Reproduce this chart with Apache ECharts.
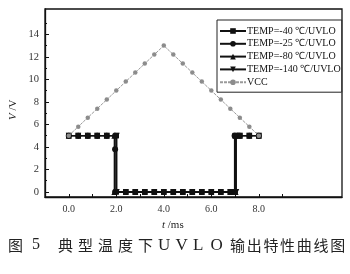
<!DOCTYPE html>
<html>
<head>
<meta charset="utf-8">
<script src="https://cdn.jsdelivr.net/npm/echarts@6/dist/echarts.min.js"></script>
<style>html,body{margin:0;padding:0;background:#fff;}#c{width:350px;height:274px;}</style>
</head>
<body>
<div id="c"></div>
<script>
// ---- data ----
const seriesNames = ['TEMP=-40 \u2103/UVLO', 'TEMP=-25 \u2103/UVLO', 'TEMP=-80 \u2103/UVLO', 'TEMP=-140 \u2103/UVLO', 'VCC'];
const xTickLabels = [0, 2, 4, 6, 8];
const xTicks = [0, 1, 2, 3, 4, 5, 6, 7, 8, 9];
const yTickLabels = [0, 2, 4, 6, 8, 10, 12, 14];
const yMinorTicks = [1, 3, 5, 7, 9, 11, 13, 15];

const vccTime = [0, 0.4, 0.8, 1.2, 1.6, 2.0, 2.4, 2.8, 3.2, 3.6, 4.0, 4.4, 4.8, 5.2, 5.6, 6.0, 6.4, 6.8, 7.2, 7.6, 8.0];
const vccVolt = [5, 5.8, 6.6, 7.4, 8.2, 9.0, 9.8, 10.6, 11.4, 12.2, 13.0, 12.2, 11.4, 10.6, 9.8, 9.0, 8.2, 7.4, 6.6, 5.8, 5.0];

const tM40 = [0, 0.4, 0.8, 1.2, 1.6, 2.0, 2.0, 2.4, 2.8, 3.2, 3.6, 4.0, 4.4, 4.8, 5.2, 5.6, 6.0, 6.4, 6.8, 7.0, 7.0, 7.2, 7.6, 8.0];
const vM40 = [5, 5, 5, 5, 5, 5, 0, 0, 0, 0, 0, 0, 0, 0, 0, 0, 0, 0, 0, 0, 5, 5, 5, 5];

const tM25 = [0, 0.4, 0.8, 1.2, 1.6, 1.95, 1.95, 1.95, 2.4, 2.8, 3.2, 3.6, 4.0, 4.4, 4.8, 5.2, 5.6, 6.0, 6.4, 6.8, 6.98, 6.98, 7.2, 7.6, 8.0];
const vM25 = [5, 5, 5, 5, 5, 5, 3.8, 0, 0, 0, 0, 0, 0, 0, 0, 0, 0, 0, 0, 0, 0, 5, 5, 5, 5];

const tM80 = [0, 0.4, 0.8, 1.2, 1.6, 1.92, 1.92, 2.4, 2.8, 3.2, 3.6, 4.0, 4.4, 4.8, 5.2, 5.6, 6.0, 6.4, 6.8, 7.02, 7.02, 7.2, 7.6, 8.0];
const vM80 = [5, 5, 5, 5, 5, 5, 0, 0, 0, 0, 0, 0, 0, 0, 0, 0, 0, 0, 0, 0, 5, 5, 5, 5];

const tM140 = [0, 0.4, 0.8, 1.2, 1.6, 2.02, 2.02, 2.4, 2.8, 3.2, 3.6, 4.0, 4.4, 4.8, 5.2, 5.6, 6.0, 6.4, 6.8, 7.05, 7.05, 7.2, 7.6, 8.0];
const vM140 = [5, 5, 5, 5, 5, 5, 0, 0, 0, 0, 0, 0, 0, 0, 0, 0, 0, 0, 0, 0, 5, 5, 5, 5];

const captionFig = ['\u56fe', '5'];
const captionA = '\u5178\u578b\u6e29\u5ea6\u4e0b';
const captionB = 'UVLO';
const captionC = '\u8f93\u51fa\u7279\u6027\u66f2\u7ebf\u56fe';

// ---- build ----
const zip = (t, v) => t.map((x, i) => [x, v[i]]);
const serif = 'Liberation Serif, Times New Roman, serif';
const cjk = 'Noto Sans CJK SC';

function blackSeries(name, t, v, symbol, rotate) {
  return {
    name: name, type: 'line', data: zip(t, v),
    symbol: symbol, symbolSize: symbol === 'rect' ? 5.5 : 6, symbolRotate: rotate || 0,
    lineStyle: { color: '#111', width: 1.4 },
    itemStyle: { color: '#111' },
    animation: false, z: 3
  };
}

const graphics = [];
graphics.push({ type: 'text', left: 8, top: 238, style: { text: captionFig[0], font: '15px ' + cjk, fill: '#222' } });
graphics.push({ type: 'text', left: 32, top: 237, style: { text: captionFig[1], font: '16px ' + serif, fill: '#222' } });
captionA.split('').forEach((ch, i) => graphics.push({ type: 'text', left: 58 + i * 20, top: 238, style: { text: ch, font: '15px ' + cjk, fill: '#222' } }));
captionB.split('').forEach((ch, i) => graphics.push({ type: 'text', left: 158 + i * 17.5, top: 237, style: { text: ch, font: '17px ' + serif, fill: '#222' } }));
captionC.split('').forEach((ch, i) => graphics.push({ type: 'text', left: 230 + i * 16.7, top: 238, style: { text: ch, font: '15px ' + cjk, fill: '#222' } }));
graphics.push({ type: 'text', left: 162, top: 220, style: { text: '{i|t} /ms', rich: { i: { fontStyle: 'italic', fontFamily: serif, fontSize: 11, fill: '#222' } }, font: '11px ' + serif, fill: '#222' } });
graphics.push({ type: 'text', x: 8, y: 120, rotation: Math.PI / 2, style: { text: '{i|V} /V', rich: { i: { fontStyle: 'italic', fontFamily: serif, fontSize: 11, fill: '#222' } }, font: '11px ' + serif, fill: '#222' } });

const option = {
  backgroundColor: '#fff',
  animation: false,
  grid: { left: 45, right: 8, top: 9, bottom: 77, show: true, borderColor: '#111', borderWidth: 1.3, backgroundColor: 'transparent' },
  legend: {
    orient: 'vertical', left: 217, top: 20,
    data: seriesNames,
    itemWidth: 26, itemHeight: 7, itemGap: 2.8,
    padding: [6, 1, 5, 2],
    backgroundColor: '#fff', borderColor: '#222', borderWidth: 1,
    textStyle: { fontFamily: serif, fontSize: 10, color: '#111', padding: [0, 0, 0, -4] }
  },
  xAxis: [{
    type: 'value', min: -1, max: 11.5,
    axisLine: { show: true, onZero: false, lineStyle: { color: '#111', width: 1.3 } },
    axisTick: { show: true, inside: true, length: 3, customValues: xTicks, lineStyle: { color: '#111' } },
    axisLabel: { customValues: xTickLabels, formatter: v => v.toFixed(1), fontFamily: serif, fontSize: 10, color: '#333', margin: 7 },
    splitLine: { show: false }
  }],
  yAxis: [{
    type: 'value', min: -0.45, max: 16.25, position: 'left',
    axisLine: { show: true, onZero: false, lineStyle: { color: '#111', width: 1.3 } },
    axisTick: { show: true, inside: true, length: 4, customValues: yTickLabels, lineStyle: { color: '#111' } },
    axisLabel: { customValues: yTickLabels, fontFamily: serif, fontSize: 10.5, color: '#333', margin: 6 },
    splitLine: { show: false }
  }, {
    type: 'value', min: -0.45, max: 16.25, position: 'left', offset: 0,
    axisLine: { show: false, onZero: false },
    axisTick: { show: true, inside: true, length: 2, customValues: yMinorTicks, lineStyle: { color: '#111' } },
    axisLabel: { show: false },
    splitLine: { show: false }
  }],
  series: [
    blackSeries(seriesNames[0], tM40, vM40, 'rect'),
    blackSeries(seriesNames[1], tM25, vM25, 'circle'),
    blackSeries(seriesNames[2], tM80, vM80, 'triangle'),
    blackSeries(seriesNames[3], tM140, vM140, 'triangle', 180),
    {
      name: seriesNames[4], type: 'line', data: zip(vccTime, vccVolt),
      symbol: 'circle', symbolSize: 4.5,
      lineStyle: { color: '#9a9a9a', width: 1, type: [3, 1] },
      itemStyle: { color: '#8c8c8c' },
      z: 5
    }
  ],
  graphic: graphics
};

const chart = echarts.init(document.getElementById('c'), null, { renderer: 'canvas' });
chart.setOption(option);
</script>
</body>
</html>
